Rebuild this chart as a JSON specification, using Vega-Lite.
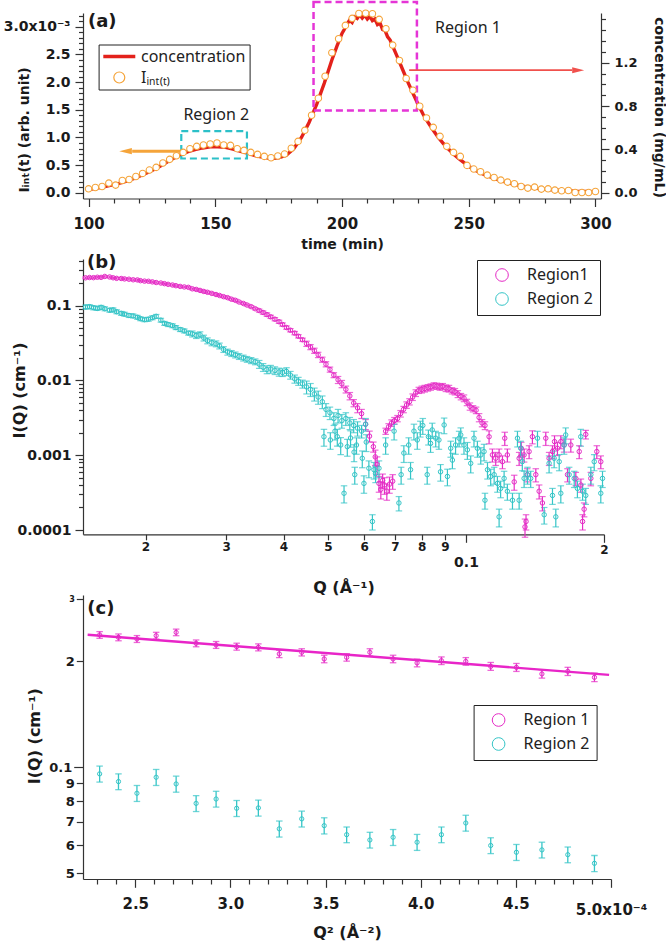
{
  "$schema": "https://vega.github.io/schema/vega-lite/v6.json",
  "background": "white",
  "padding": {"left": 3, "top": 0, "right": 2, "bottom": 2},
  "config": {
    "view": {"stroke": null},
    "font": "DejaVu Sans",
    "axis": {"grid": false, "labelFont": "DejaVu Sans", "labelFontWeight": "bold", "titleFont": "DejaVu Sans", "titleFontWeight": "bold", "labelColor": "#1a1a1a", "titleColor": "#1a1a1a", "domainColor": "#333333", "tickColor": "#333333", "domainWidth": 1.2, "tickWidth": 1.2, "labelOverlap": false, "labelFlush": false, "labelBound": false}
  },
  "resolve": {"scale": {"color": "independent"}},
  "datasets": {
    "tI": [
      {"t":100,"I":0.000072},{"t":102.67,"I":0.000096},{"t":105.33,"I":0.000114},{"t":108,"I":0.000175},{"t":110.67,"I":0.000139},{"t":113.33,"I":0.000223},{"t":116,"I":0.000241},{"t":118.67,"I":0.000295},{"t":121.33,"I":0.00035},{"t":124,"I":0.000411},{"t":126.67,"I":0.000459},{"t":129.33,"I":0.000538},{"t":132,"I":0.000604},{"t":134.67,"I":0.00067},{"t":137.33,"I":0.00073},{"t":140,"I":0.000797},{"t":142.67,"I":0.000839},{"t":145.33,"I":0.000864},{"t":148,"I":0.000882},{"t":150.67,"I":0.0009},{"t":153.33,"I":0.000864},{"t":156,"I":0.000857},{"t":158.67,"I":0.000797},{"t":161.33,"I":0.000766},{"t":164,"I":0.00073},{"t":166.67,"I":0.000694},{"t":169.33,"I":0.000658},{"t":172,"I":0.000634},{"t":174.67,"I":0.000664},{"t":177.33,"I":0.0007},{"t":180,"I":0.000806},{"t":182.67,"I":0.000929},{"t":185.33,"I":0.001129},{"t":188,"I":0.001401},{"t":190.67,"I":0.001709},{"t":193.33,"I":0.002107},{"t":196,"I":0.00253},{"t":198.67,"I":0.002784},{"t":201.33,"I":0.003025},{"t":204,"I":0.003152},{"t":206.67,"I":0.00324},{"t":209.33,"I":0.003245},{"t":212,"I":0.003235},{"t":214.67,"I":0.003134},{"t":217.33,"I":0.002965},{"t":220,"I":0.002669},{"t":222.67,"I":0.002391},{"t":225.33,"I":0.002065},{"t":228,"I":0.001853},{"t":230.67,"I":0.001563},{"t":233.33,"I":0.001353},{"t":236,"I":0.001183},{"t":238.67,"I":0.00102},{"t":241.33,"I":0.000839},{"t":244,"I":0.00073},{"t":246.67,"I":0.000658},{"t":249.33,"I":0.000495},{"t":252,"I":0.000429},{"t":254.67,"I":0.00038},{"t":257.33,"I":0.00032},{"t":260,"I":0.000277},{"t":262.67,"I":0.00023},{"t":265.33,"I":0.000193},{"t":268,"I":0.000163},{"t":270.67,"I":0.000114},{"t":273.33,"I":0.000085},{"t":276,"I":0.000103},{"t":278.67,"I":0.000067},{"t":281.33,"I":0.000072},{"t":284,"I":0.000049},{"t":286.67,"I":0.000036},{"t":289.33,"I":0.000042},{"t":292,"I":0.000005},{"t":294.67,"I":0.000005},{"t":297.33,"I":0.000005},{"t":300,"I":0.000024}
    ],
    "conc": [
      {"t":100,"c":0.031},{"t":103,"c":0.041},{"t":106,"c":0.056},{"t":109,"c":0.072},{"t":112,"c":0.087},{"t":115,"c":0.107},{"t":118,"c":0.133},{"t":121,"c":0.163},{"t":124,"c":0.194},{"t":127,"c":0.23},{"t":130,"c":0.271},{"t":133,"c":0.312},{"t":136,"c":0.347},{"t":139,"c":0.378},{"t":142,"c":0.398},{"t":145,"c":0.414},{"t":148,"c":0.424},{"t":151,"c":0.424},{"t":154,"c":0.419},{"t":157,"c":0.404},{"t":160,"c":0.383},{"t":163,"c":0.363},{"t":166,"c":0.342},{"t":169,"c":0.327},{"t":172,"c":0.317},{"t":175,"c":0.322},{"t":178,"c":0.347},{"t":181,"c":0.409},{"t":184,"c":0.511},{"t":187,"c":0.649},{"t":190,"c":0.817},{"t":193,"c":1.011},{"t":196,"c":1.226},{"t":198,"c":1.354},{"t":200,"c":1.471},{"t":201,"c":1.512},{"t":202,"c":1.558},{"t":203,"c":1.594},{"t":204,"c":1.573},{"t":205,"c":1.624},{"t":206,"c":1.609},{"t":207,"c":1.645},{"t":208,"c":1.614},{"t":209,"c":1.64},{"t":210,"c":1.604},{"t":211,"c":1.629},{"t":212,"c":1.589},{"t":213,"c":1.604},{"t":214,"c":1.553},{"t":215,"c":1.568},{"t":216,"c":1.507},{"t":217,"c":1.497},{"t":218,"c":1.44},{"t":219,"c":1.41},{"t":220,"c":1.354},{"t":222,"c":1.246},{"t":224,"c":1.134},{"t":226,"c":1.022},{"t":228,"c":0.919},{"t":230,"c":0.817},{"t":232,"c":0.725},{"t":234,"c":0.649},{"t":236,"c":0.577},{"t":238,"c":0.511},{"t":240,"c":0.455},{"t":242,"c":0.404},{"t":244,"c":0.358},{"t":246,"c":0.317},{"t":248,"c":0.281},{"t":250,"c":0.245},{"t":253,"c":0.204},{"t":256,"c":0.169},{"t":259,"c":0.143},{"t":262,"c":0.117},{"t":265,"c":0.097},{"t":268,"c":0.077},{"t":271,"c":0.061},{"t":274,"c":0.051},{"t":277,"c":0.041},{"t":280,"c":0.033},{"t":284,"c":0.026},{"t":288,"c":0.02},{"t":292,"c":0.015},{"t":296,"c":0.013},{"t":300,"c":0.01}
    ],
    "sans": [
      {"r":1,"q":0.0148,"i":0.236,"e":0.006},{"r":1,"q":0.0151,"i":0.238,"e":0.006},{"r":1,"q":0.0154,"i":0.237,"e":0.006},{"r":1,"q":0.0157,"i":0.24,"e":0.006},{"r":1,"q":0.016,"i":0.239,"e":0.006},{"r":1,"q":0.0163,"i":0.246,"e":0.006},{"r":1,"q":0.0167,"i":0.242,"e":0.006},{"r":1,"q":0.017,"i":0.236,"e":0.006},{"r":1,"q":0.0173,"i":0.232,"e":0.006},{"r":1,"q":0.0177,"i":0.231,"e":0.006},{"r":1,"q":0.018,"i":0.228,"e":0.006},{"r":1,"q":0.0184,"i":0.226,"e":0.006},{"r":1,"q":0.0188,"i":0.222,"e":0.006},{"r":1,"q":0.0192,"i":0.221,"e":0.006},{"r":1,"q":0.0195,"i":0.216,"e":0.005},{"r":1,"q":0.0199,"i":0.213,"e":0.005},{"r":1,"q":0.0203,"i":0.212,"e":0.005},{"r":1,"q":0.0207,"i":0.208,"e":0.005},{"r":1,"q":0.0211,"i":0.204,"e":0.005},{"r":1,"q":0.0216,"i":0.201,"e":0.005},{"r":1,"q":0.022,"i":0.197,"e":0.005},{"r":1,"q":0.0224,"i":0.193,"e":0.005},{"r":1,"q":0.0229,"i":0.189,"e":0.005},{"r":1,"q":0.0233,"i":0.185,"e":0.005},{"r":1,"q":0.0238,"i":0.181,"e":0.005},{"r":1,"q":0.0243,"i":0.178,"e":0.004},{"r":1,"q":0.0248,"i":0.176,"e":0.005},{"r":1,"q":0.0253,"i":0.168,"e":0.005},{"r":1,"q":0.0258,"i":0.165,"e":0.005},{"r":1,"q":0.0263,"i":0.16,"e":0.005},{"r":1,"q":0.0268,"i":0.155,"e":0.005},{"r":1,"q":0.0273,"i":0.151,"e":0.005},{"r":1,"q":0.0279,"i":0.146,"e":0.004},{"r":1,"q":0.0285,"i":0.141,"e":0.004},{"r":1,"q":0.029,"i":0.137,"e":0.004},{"r":1,"q":0.0296,"i":0.132,"e":0.004},{"r":1,"q":0.0302,"i":0.128,"e":0.004},{"r":1,"q":0.0308,"i":0.122,"e":0.004},{"r":1,"q":0.0314,"i":0.118,"e":0.004},{"r":1,"q":0.032,"i":0.112,"e":0.003},{"r":1,"q":0.0327,"i":0.107,"e":0.003},{"r":1,"q":0.0333,"i":0.102,"e":0.003},{"r":1,"q":0.034,"i":0.097,"e":0.003},{"r":1,"q":0.0347,"i":0.091,"e":0.003},{"r":1,"q":0.0354,"i":0.086,"e":0.004},{"r":1,"q":0.0361,"i":0.081,"e":0.004},{"r":1,"q":0.0368,"i":0.076,"e":0.004},{"r":1,"q":0.0375,"i":0.071,"e":0.0035},{"r":1,"q":0.0383,"i":0.066,"e":0.0033},{"r":1,"q":0.0391,"i":0.061,"e":0.003},{"r":1,"q":0.0398,"i":0.056,"e":0.0028},{"r":1,"q":0.0406,"i":0.051,"e":0.0026},{"r":1,"q":0.0414,"i":0.047,"e":0.0024},{"r":1,"q":0.0423,"i":0.043,"e":0.0022},{"r":1,"q":0.0431,"i":0.039,"e":0.002},{"r":1,"q":0.044,"i":0.035,"e":0.0018},{"r":1,"q":0.0449,"i":0.031,"e":0.0025},{"r":1,"q":0.0458,"i":0.028,"e":0.0022},{"r":1,"q":0.0467,"i":0.025,"e":0.002},{"r":1,"q":0.0476,"i":0.022,"e":0.0018},{"r":1,"q":0.0486,"i":0.019,"e":0.0015},{"r":1,"q":0.0495,"i":0.0165,"e":0.0013},{"r":1,"q":0.0505,"i":0.014,"e":0.0011},{"r":1,"q":0.0515,"i":0.0118,"e":0.0009},{"r":1,"q":0.0526,"i":0.0102,"e":0.0011},{"r":1,"q":0.0536,"i":0.009,"e":0.001},{"r":1,"q":0.0547,"i":0.0076,"e":0.0008},{"r":1,"q":0.0558,"i":0.0062,"e":0.0007},{"r":1,"q":0.0569,"i":0.005,"e":0.00055},{"r":1,"q":0.058,"i":0.0043,"e":0.0006},{"r":1,"q":0.0592,"i":0.0036,"e":0.0005},{"r":1,"q":0.0604,"i":0.0026,"e":0.0004},{"r":1,"q":0.0616,"i":0.0018,"e":0.0003},{"r":1,"q":0.0628,"i":0.0013,"e":0.0002},
      {"r":1,"q":0.0634,"i":0.00095,"e":0.00022},{"r":1,"q":0.064,"i":0.00075,"e":0.0002},{"r":1,"q":0.0646,"i":0.00042,"e":0.0001},{"r":1,"q":0.0652,"i":0.00035,"e":0.00009},{"r":1,"q":0.0658,"i":0.00046,"e":0.0001},{"r":1,"q":0.0664,"i":0.0004,"e":0.0001},{"r":1,"q":0.0672,"i":0.00033,"e":0.00008},{"r":1,"q":0.0681,"i":0.00041,"e":0.0001},{"r":1,"q":0.0692,"i":0.00045,"e":0.0001},
      {"r":1,"q":0.0668,"i":0.0021,"e":0.0002},{"r":1,"q":0.0678,"i":0.0024,"e":0.00024},{"r":1,"q":0.0688,"i":0.0027,"e":0.00027},{"r":1,"q":0.0698,"i":0.0029,"e":0.0003},{"r":1,"q":0.0709,"i":0.0031,"e":0.0003},{"r":1,"q":0.072,"i":0.0036,"e":0.00036},{"r":1,"q":0.0731,"i":0.0041,"e":0.0004},{"r":1,"q":0.0742,"i":0.0047,"e":0.00047},{"r":1,"q":0.0753,"i":0.0052,"e":0.0005},{"r":1,"q":0.0765,"i":0.006,"e":0.0006},{"r":1,"q":0.0777,"i":0.0068,"e":0.0007},{"r":1,"q":0.0789,"i":0.0074,"e":0.0007},{"r":1,"q":0.0801,"i":0.0076,"e":0.0008},{"r":1,"q":0.0813,"i":0.0078,"e":0.0008},{"r":1,"q":0.0826,"i":0.008,"e":0.0008},{"r":1,"q":0.0838,"i":0.0082,"e":0.0008},{"r":1,"q":0.0851,"i":0.0085,"e":0.0008},{"r":1,"q":0.0864,"i":0.0084,"e":0.0008},{"r":1,"q":0.0877,"i":0.0082,"e":0.0008},{"r":1,"q":0.089,"i":0.0083,"e":0.0008},{"r":1,"q":0.0904,"i":0.0079,"e":0.0008},{"r":1,"q":0.0918,"i":0.0078,"e":0.0008},{"r":1,"q":0.0932,"i":0.0073,"e":0.0007},{"r":1,"q":0.0946,"i":0.0071,"e":0.0007},{"r":1,"q":0.096,"i":0.0066,"e":0.0007},{"r":1,"q":0.0975,"i":0.0061,"e":0.0006},{"r":1,"q":0.099,"i":0.0058,"e":0.0006},{"r":1,"q":0.1005,"i":0.0051,"e":0.0005},{"r":1,"q":0.102,"i":0.0045,"e":0.0005},{"r":1,"q":0.1036,"i":0.0042,"e":0.0004},{"r":1,"q":0.1052,"i":0.004,"e":0.0004},{"r":1,"q":0.1068,"i":0.0032,"e":0.0004},{"r":1,"q":0.1084,"i":0.0027,"e":0.0003},{"r":1,"q":0.11,"i":0.0025,"e":0.0003},
      {"r":1,"q":0.1123,"i":0.00177,"e":0.00035},{"r":1,"q":0.1142,"i":0.00101,"e":0.0002},{"r":1,"q":0.1161,"i":0.00091,"e":0.00018},{"r":1,"q":0.1181,"i":0.00101,"e":0.0002},{"r":1,"q":0.1201,"i":0.00082,"e":0.00016},{"r":1,"q":0.1215,"i":0.00169,"e":0.00034},{"r":1,"q":0.1231,"i":0.00101,"e":0.0002},{"r":1,"q":0.1274,"i":0.00044,"e":0.0001},{"r":1,"q":0.1306,"i":0.00091,"e":0.00018},{"r":1,"q":0.132,"i":0.00124,"e":0.00025},{"r":1,"q":0.1339,"i":0.00101,"e":0.0002},{"r":1,"q":0.1345,"i":0.00011,"e":0.00003},{"r":1,"q":0.1352,"i":0.00013,"e":0.00003},{"r":1,"q":0.136,"i":0.00055,"e":0.00011},{"r":1,"q":0.1373,"i":0.00112,"e":0.00022},{"r":1,"q":0.1396,"i":0.00177,"e":0.00035},{"r":1,"q":0.142,"i":0.00055,"e":0.00011},{"r":1,"q":0.1444,"i":0.00033,"e":0.00007},{"r":1,"q":0.1468,"i":0.00023,"e":0.00005},{"r":1,"q":0.1493,"i":0.00169,"e":0.00034},{"r":1,"q":0.1518,"i":0.00091,"e":0.00018},{"r":1,"q":0.1544,"i":0.00112,"e":0.00022},{"r":1,"q":0.156,"i":0.00152,"e":0.0003},{"r":1,"q":0.1583,"i":0.00124,"e":0.00025},{"r":1,"q":0.161,"i":0.00152,"e":0.0003},{"r":1,"q":0.1637,"i":0.00137,"e":0.00027},{"r":1,"q":0.1665,"i":0.00055,"e":0.00011},{"r":1,"q":0.1693,"i":0.00137,"e":0.00027},{"r":1,"q":0.1736,"i":0.00049,"e":0.0001},{"r":1,"q":0.1766,"i":0.00112,"e":0.00022},{"r":1,"q":0.1781,"i":0.0004,"e":0.00008},{"r":1,"q":0.1796,"i":0.00013,"e":0.00003},{"r":1,"q":0.181,"i":0.00019,"e":0.00004},{"r":1,"q":0.1825,"i":0.0019,"e":0.00025},{"r":1,"q":0.1872,"i":0.00049,"e":0.0001},{"r":1,"q":0.1929,"i":0.00112,"e":0.00022},{"r":1,"q":0.1968,"i":0.00082,"e":0.00016},
      {"r":2,"q":0.0148,"i":0.096,"e":0.006},{"r":2,"q":0.0151,"i":0.097,"e":0.006},{"r":2,"q":0.0154,"i":0.094,"e":0.006},{"r":2,"q":0.0157,"i":0.092,"e":0.0055},{"r":2,"q":0.016,"i":0.095,"e":0.0057},{"r":2,"q":0.0163,"i":0.091,"e":0.0055},{"r":2,"q":0.0167,"i":0.087,"e":0.0052},{"r":2,"q":0.017,"i":0.088,"e":0.0053},{"r":2,"q":0.0173,"i":0.083,"e":0.005},{"r":2,"q":0.0177,"i":0.079,"e":0.0047},{"r":2,"q":0.018,"i":0.077,"e":0.0046},{"r":2,"q":0.0184,"i":0.074,"e":0.0044},{"r":2,"q":0.0188,"i":0.073,"e":0.0044},{"r":2,"q":0.0192,"i":0.07,"e":0.0042},{"r":2,"q":0.0195,"i":0.067,"e":0.004},{"r":2,"q":0.0199,"i":0.065,"e":0.0039},{"r":2,"q":0.0203,"i":0.066,"e":0.004},{"r":2,"q":0.0207,"i":0.069,"e":0.0041},{"r":2,"q":0.0211,"i":0.072,"e":0.0043},{"r":2,"q":0.0216,"i":0.064,"e":0.0038},{"r":2,"q":0.022,"i":0.058,"e":0.0035},{"r":2,"q":0.0224,"i":0.056,"e":0.0034},{"r":2,"q":0.0229,"i":0.054,"e":0.0032},{"r":2,"q":0.0233,"i":0.051,"e":0.0031},{"r":2,"q":0.0238,"i":0.048,"e":0.0029},{"r":2,"q":0.0243,"i":0.046,"e":0.0028},{"r":2,"q":0.0248,"i":0.043,"e":0.0026},{"r":2,"q":0.0253,"i":0.042,"e":0.0038},{"r":2,"q":0.0258,"i":0.04,"e":0.0036},{"r":2,"q":0.0263,"i":0.041,"e":0.0037},{"r":2,"q":0.0268,"i":0.037,"e":0.0033},{"r":2,"q":0.0273,"i":0.034,"e":0.0031},{"r":2,"q":0.0279,"i":0.032,"e":0.0029},{"r":2,"q":0.0285,"i":0.031,"e":0.0028},{"r":2,"q":0.029,"i":0.029,"e":0.0026},{"r":2,"q":0.0296,"i":0.026,"e":0.0023},{"r":2,"q":0.0302,"i":0.024,"e":0.0022},{"r":2,"q":0.0308,"i":0.023,"e":0.0021},{"r":2,"q":0.0314,"i":0.022,"e":0.002},{"r":2,"q":0.032,"i":0.021,"e":0.0019},{"r":2,"q":0.0327,"i":0.02,"e":0.0018},{"r":2,"q":0.0333,"i":0.0192,"e":0.0017},{"r":2,"q":0.034,"i":0.0185,"e":0.0017},{"r":2,"q":0.0347,"i":0.0178,"e":0.0016},{"r":2,"q":0.0354,"i":0.0165,"e":0.002},{"r":2,"q":0.0361,"i":0.015,"e":0.0018},{"r":2,"q":0.0368,"i":0.014,"e":0.0017},{"r":2,"q":0.0375,"i":0.0142,"e":0.0017},{"r":2,"q":0.0383,"i":0.0136,"e":0.0016},{"r":2,"q":0.0391,"i":0.013,"e":0.0016},{"r":2,"q":0.0398,"i":0.0128,"e":0.0015},{"r":2,"q":0.0406,"i":0.0132,"e":0.0016},{"r":2,"q":0.0414,"i":0.0118,"e":0.0014},{"r":2,"q":0.0423,"i":0.0105,"e":0.0013},{"r":2,"q":0.0431,"i":0.0098,"e":0.0012},{"r":2,"q":0.044,"i":0.009,"e":0.0011},{"r":2,"q":0.0449,"i":0.0082,"e":0.0016},{"r":2,"q":0.0458,"i":0.0076,"e":0.0015},{"r":2,"q":0.0467,"i":0.0066,"e":0.0013},{"r":2,"q":0.0476,"i":0.006,"e":0.0012},{"r":2,"q":0.0486,"i":0.0052,"e":0.001},{"r":2,"q":0.0495,"i":0.0041,"e":0.0008},{"r":2,"q":0.0505,"i":0.0037,"e":0.0007},{"r":2,"q":0.0515,"i":0.0031,"e":0.0006},{"r":2,"q":0.0526,"i":0.0034,"e":0.0007},{"r":2,"q":0.0536,"i":0.0029,"e":0.0006},{"r":2,"q":0.0547,"i":0.0031,"e":0.0006},{"r":2,"q":0.0558,"i":0.0027,"e":0.0005},{"r":2,"q":0.0569,"i":0.0025,"e":0.0005},{"r":2,"q":0.058,"i":0.0023,"e":0.0005},{"r":2,"q":0.0592,"i":0.0021,"e":0.0004},{"r":2,"q":0.0604,"i":0.0026,"e":0.0005},
      {"r":2,"q":0.049,"i":0.00177,"e":0.00045},{"r":2,"q":0.0506,"i":0.0016,"e":0.0004},{"r":2,"q":0.0518,"i":0.0021,"e":0.0005},{"r":2,"q":0.0524,"i":0.00177,"e":0.00045},{"r":2,"q":0.0533,"i":0.00137,"e":0.00035},{"r":2,"q":0.0542,"i":0.00031,"e":0.00008},{"r":2,"q":0.0551,"i":0.0013,"e":0.00033},{"r":2,"q":0.056,"i":0.0017,"e":0.00042},{"r":2,"q":0.057,"i":0.0011,"e":0.00028},{"r":2,"q":0.0572,"i":0.00055,"e":0.00014},{"r":2,"q":0.0577,"i":0.00137,"e":0.00034},{"r":2,"q":0.0594,"i":0.00091,"e":0.00023},{"r":2,"q":0.0599,"i":0.00042,"e":0.00011},{"r":2,"q":0.0606,"i":0.0015,"e":0.00038},{"r":2,"q":0.0614,"i":0.00067,"e":0.00017},{"r":2,"q":0.0625,"i":0.00013,"e":0.00003},{"r":2,"q":0.063,"i":0.00064,"e":0.00016},{"r":2,"q":0.0635,"i":0.00057,"e":0.00014},{"r":2,"q":0.0646,"i":0.00067,"e":0.00017},{"r":2,"q":0.0668,"i":0.00137,"e":0.00034},{"r":2,"q":0.0697,"i":0.0021,"e":0.0005},{"r":2,"q":0.0714,"i":0.00023,"e":0.00005},{"r":2,"q":0.0722,"i":0.00055,"e":0.00014},{"r":2,"q":0.0732,"i":0.00107,"e":0.00027},{"r":2,"q":0.075,"i":0.00137,"e":0.00034},{"r":2,"q":0.0757,"i":0.00064,"e":0.00016},{"r":2,"q":0.077,"i":0.0021,"e":0.0005},{"r":2,"q":0.0783,"i":0.0016,"e":0.0004},{"r":2,"q":0.0795,"i":0.0023,"e":0.00055},{"r":2,"q":0.0805,"i":0.0025,"e":0.0006},{"r":2,"q":0.0823,"i":0.00055,"e":0.00014},{"r":2,"q":0.0828,"i":0.00177,"e":0.0004},{"r":2,"q":0.0837,"i":0.00144,"e":0.00035},{"r":2,"q":0.0844,"i":0.00218,"e":0.0005},{"r":2,"q":0.0859,"i":0.00169,"e":0.0004},{"r":2,"q":0.0873,"i":0.0016,"e":0.0004},{"r":2,"q":0.088,"i":0.0006,"e":0.00015},{"r":2,"q":0.0896,"i":0.00254,"e":0.0006},{"r":2,"q":0.0911,"i":0.00052,"e":0.00013},{"r":2,"q":0.0926,"i":0.00124,"e":0.0003},{"r":2,"q":0.0934,"i":0.00086,"e":0.0002},{"r":2,"q":0.0949,"i":0.00137,"e":0.00034},{"r":2,"q":0.0966,"i":0.00169,"e":0.0004},{"r":2,"q":0.0974,"i":0.00187,"e":0.00045},{"r":2,"q":0.099,"i":0.00137,"e":0.00034},{"r":2,"q":0.1007,"i":0.00118,"e":0.0003},{"r":2,"q":0.1024,"i":0.00078,"e":0.0002},{"r":2,"q":0.1041,"i":0.00169,"e":0.0004},{"r":2,"q":0.1059,"i":0.00124,"e":0.0003},{"r":2,"q":0.1077,"i":0.00101,"e":0.00025},{"r":2,"q":0.1095,"i":0.00112,"e":0.00028},{"r":2,"q":0.11,"i":0.00025,"e":0.00006},{"r":2,"q":0.1114,"i":0.00064,"e":0.00016},{"r":2,"q":0.1132,"i":0.00052,"e":0.00013},{"r":2,"q":0.1152,"i":0.00055,"e":0.00014},{"r":2,"q":0.1171,"i":0.00042,"e":0.0001},{"r":2,"q":0.1181,"i":0.00015,"e":0.00004},{"r":2,"q":0.119,"i":0.00036,"e":0.00009},{"r":2,"q":0.1211,"i":0.00049,"e":0.00012},{"r":2,"q":0.1231,"i":0.00033,"e":0.00008},{"r":2,"q":0.1263,"i":0.00025,"e":0.00006},{"r":2,"q":0.1295,"i":0.00169,"e":0.0004},{"r":2,"q":0.1306,"i":0.00025,"e":0.00006},{"r":2,"q":0.1316,"i":0.00124,"e":0.0003},{"r":2,"q":0.1327,"i":0.00082,"e":0.0002},{"r":2,"q":0.1339,"i":0.00049,"e":0.00012},{"r":2,"q":0.1362,"i":0.00055,"e":0.00014},{"r":2,"q":0.1384,"i":0.00049,"e":0.00012},{"r":2,"q":0.1432,"i":0.00169,"e":0.0004},{"r":2,"q":0.1481,"i":0.00016,"e":0.00004},{"r":2,"q":0.1518,"i":0.00078,"e":0.0002},{"r":2,"q":0.1544,"i":0.00029,"e":0.00007},{"r":2,"q":0.1557,"i":0.00091,"e":0.00023},{"r":2,"q":0.157,"i":0.00015,"e":0.00004},{"r":2,"q":0.1597,"i":0.00082,"e":0.0002},{"r":2,"q":0.161,"i":0.00031,"e":0.00008},{"r":2,"q":0.1637,"i":0.00137,"e":0.00034},{"r":2,"q":0.165,"i":0.00187,"e":0.00045},{"r":2,"q":0.1679,"i":0.00055,"e":0.00014},{"r":2,"q":0.1722,"i":0.00049,"e":0.00012},{"r":2,"q":0.175,"i":0.00036,"e":0.00009},{"r":2,"q":0.178,"i":0.00177,"e":0.00045},{"r":2,"q":0.1796,"i":0.00033,"e":0.00008},{"r":2,"q":0.1825,"i":0.00029,"e":0.00007},{"r":2,"q":0.1872,"i":0.00055,"e":0.00014},{"r":2,"q":0.1904,"i":0.00082,"e":0.0002},{"r":2,"q":0.1968,"i":0.00031,"e":0.00008},{"r":2,"q":0.1985,"i":0.00049,"e":0.00012}
    ],
    "guin": [
      {"r":1,"q2":0.0002313,"i":0.2375,"e":0.0052},{"r":1,"q2":0.0002412,"i":0.2338,"e":0.0052},{"r":1,"q2":0.0002509,"i":0.2313,"e":0.0052},{"r":1,"q2":0.000261,"i":0.2364,"e":0.0052},{"r":1,"q2":0.0002715,"i":0.2415,"e":0.0052},{"r":1,"q2":0.000282,"i":0.2248,"e":0.005},{"r":1,"q2":0.0002925,"i":0.2225,"e":0.005},{"r":1,"q2":0.0003033,"i":0.22,"e":0.005},{"r":1,"q2":0.0003147,"i":0.219,"e":0.005},{"r":1,"q2":0.0003257,"i":0.2098,"e":0.005},{"r":1,"q2":0.0003375,"i":0.212,"e":0.005},{"r":1,"q2":0.0003493,"i":0.203,"e":0.005},{"r":1,"q2":0.0003611,"i":0.2051,"e":0.005},{"r":1,"q2":0.0003733,"i":0.212,"e":0.005},{"r":1,"q2":0.0003855,"i":0.203,"e":0.005},{"r":1,"q2":0.0003981,"i":0.1978,"e":0.005},{"r":1,"q2":0.0004109,"i":0.2007,"e":0.005},{"r":1,"q2":0.0004237,"i":0.1998,"e":0.005},{"r":1,"q2":0.0004368,"i":0.1934,"e":0.005},{"r":1,"q2":0.0004503,"i":0.1921,"e":0.005},{"r":1,"q2":0.0004637,"i":0.1841,"e":0.005},{"r":1,"q2":0.0004773,"i":0.1872,"e":0.005},{"r":1,"q2":0.0004913,"i":0.18,"e":0.005},
      {"r":2,"q2":0.0002313,"i":0.0958,"e":0.005},{"r":2,"q2":0.0002412,"i":0.0911,"e":0.0047},{"r":2,"q2":0.0002509,"i":0.0844,"e":0.0044},{"r":2,"q2":0.000261,"i":0.0937,"e":0.0049},{"r":2,"q2":0.0002715,"i":0.0897,"e":0.0047},{"r":2,"q2":0.000282,"i":0.079,"e":0.0041},{"r":2,"q2":0.0002925,"i":0.0813,"e":0.0042},{"r":2,"q2":0.0003033,"i":0.0765,"e":0.004},{"r":2,"q2":0.0003147,"i":0.0767,"e":0.004},{"r":2,"q2":0.0003257,"i":0.0669,"e":0.0035},{"r":2,"q2":0.0003375,"i":0.0714,"e":0.0037},{"r":2,"q2":0.0003493,"i":0.0683,"e":0.0036},{"r":2,"q2":0.0003611,"i":0.0644,"e":0.0033},{"r":2,"q2":0.0003733,"i":0.0622,"e":0.0032},{"r":2,"q2":0.0003855,"i":0.0633,"e":0.0033},{"r":2,"q2":0.0003981,"i":0.0613,"e":0.0032},{"r":2,"q2":0.0004109,"i":0.0644,"e":0.0033},{"r":2,"q2":0.0004237,"i":0.0695,"e":0.0036},{"r":2,"q2":0.0004368,"i":0.06,"e":0.0031},{"r":2,"q2":0.0004503,"i":0.0574,"e":0.003},{"r":2,"q2":0.0004637,"i":0.0583,"e":0.003},{"r":2,"q2":0.0004773,"i":0.0565,"e":0.0029},{"r":2,"q2":0.0004913,"i":0.0534,"e":0.0028}
    ],
    "fit": [{"q2":0.000225,"i":0.2378},{"q2":0.000499,"i":0.1829}]
  },
  "vconcat": [
    {
      "width": 518,
      "height": 185.5,
      "resolve": {"scale": {"y": "independent"}},
      "layer": [
        {
          "data": {"name": "conc"},
          "mark": {"type": "line", "strokeWidth": 3.4},
          "encoding": {
            "x": {"field": "t", "type": "quantitative", "title": "time (min)", "scale": {"domain": [97.8, 302.2], "nice": false, "zero": false},
              "axis": {"title": "time (min)", "labelOverlap": false, "tickCount": 100, "values": [100,110,120,130,140,150,160,170,180,190,200,210,220,230,240,250,260,270,280,290,300], "labelExpr": "datum.value % 50 === 0 ? format(datum.value, 'd') : ''", "tickSize": {"condition": {"test": "datum.value % 50 === 0", "value": 8}, "value": 4.5}, "labelFontSize": 15, "labelPadding": 10, "titleFontSize": 14, "titleY": 46, "titleBaseline": "middle"}},
            "y": {"field": "c", "type": "quantitative", "title": "concentration (mg/mL)", "scale": {"domain": [-0.0526, 1.66], "nice": false, "zero": false},
              "axis": {"orient": "right", "title": "concentration (mg/mL)", "labelOverlap": false, "tickCount": 100, "values": [0,0.1,0.2,0.3,0.4,0.5,0.6,0.7,0.8,0.9,1,1.1,1.2,1.3,1.4,1.5,1.6], "labelExpr": "(abs(datum.value*2.5 - round(datum.value*2.5)) < 0.000001 && datum.value < 1.5) ? format(datum.value, '.1f') : ''", "tickSize": {"condition": {"test": "abs(datum.value*2.5 - round(datum.value*2.5)) < 0.000001 && datum.value < 1.5", "value": 8}, "value": 4.5}, "labelFontSize": 13, "labelPadding": 5, "titleFontSize": 14, "titleX": 57, "titleY": 94, "titleAngle": 90, "titleAlign": "center", "titleBaseline": "middle"}},
            "color": {"datum": "concentration", "type": "nominal", "scale": {"domain": ["concentration", "I"], "range": ["#e3211b", "#f5a43a"]},
              "legend": {"title": null, "orient": "none", "legendX": 15.6, "legendY": 31.5, "strokeColor": "#222222", "fillColor": "white", "padding": 4, "symbolSize": 324, "symbolOffset": 8.7, "labelOffset": 13.7, "labelFont": "Noto Sans", "labelFontSize": 16, "labelFontWeight": "normal", "labelColor": "#222222", "rowPadding": 5, "labelExpr": "datum.label === 'I' ? 'Iᵢₙₜ₍ₜ₎' : datum.label",
                "encode": {"symbols": {"update": {
                  "shape": {"signal": "datum.value === 'concentration' ? 'stroke' : 'circle'"},
                  "size": {"signal": "datum.value === 'concentration' ? 1024 : 120"},
                  "strokeWidth": {"signal": "datum.value === 'concentration' ? 3.5 : 1.2"},
                  "stroke": {"signal": "datum.value === 'concentration' ? '#e3211b' : '#f5a43a'"},
                  "fillOpacity": {"value": 0}}}}}}
          }
        },
        {
          "layer": [
            {"data": {"values": [{}]}, "mark": {"type": "rect", "filled": false, "color": "#2cc0c8", "strokeWidth": 2.2, "strokeDash": [7, 4]},
              "encoding": {"x": {"datum": 136.58}, "x2": {"datum": 162.49}, "y": {"datum": 0.00062}, "y2": {"datum": 0.001113}}},
            {"data": {"values": [{}]}, "mark": {"type": "rect", "filled": false, "color": "#e535d6", "strokeWidth": 2.5, "strokeDash": [7, 4]},
              "encoding": {"x": {"datum": 188.77}, "x2": {"datum": 229.56}, "y": {"datum": 0.001487}, "y2": {"datum": 0.00345}}},
            {"data": {"values": [{}]}, "mark": {"type": "rule", "color": "#f5a43a", "strokeWidth": 3},
              "encoding": {"x": {"datum": 117.2}, "x2": {"datum": 136.58}, "y": {"datum": 0.000752}}},
            {"data": {"values": [{}]}, "mark": {"type": "point", "shape": "M 1 -0.5 L -1 0 L 1 0.5 Z", "filled": true, "color": "#f5a43a", "size": 160, "strokeWidth": 0, "opacity": 1},
              "encoding": {"x": {"datum": 114.6}, "y": {"datum": 0.000752}}},
            {"data": {"values": [{}]}, "mark": {"type": "rule", "color": "#f0504c", "strokeWidth": 1.8},
              "encoding": {"x": {"datum": 226.5}, "x2": {"datum": 290.8}, "y": {"datum": 0.002216}}},
            {"data": {"values": [{}]}, "mark": {"type": "point", "shape": "M -1 -0.5 L 1 0 L -1 0.5 Z", "filled": true, "color": "#f0504c", "size": 144, "strokeWidth": 0, "opacity": 1},
              "encoding": {"x": {"datum": 293.2}, "y": {"datum": 0.002216}}},
            {"data": {"values": [{}]}, "mark": {"type": "text", "font": "Noto Sans", "fontSize": 16, "align": "center", "baseline": "middle", "color": "#222222"},
              "encoding": {"x": {"datum": 150.4}, "y": {"datum": 0.001413}, "text": {"value": "Region 2"}}},
            {"data": {"values": [{}]}, "mark": {"type": "text", "font": "Noto Sans", "fontSize": 16, "align": "center", "baseline": "middle", "color": "#222222"},
              "encoding": {"x": {"datum": 249.7}, "y": {"datum": 0.002982}, "text": {"value": "Region 1"}}},
            {"data": {"values": [{}]}, "mark": {"type": "text", "font": "DejaVu Sans", "fontWeight": "bold", "fontSize": 18, "align": "left", "baseline": "middle", "color": "#1a1a1a"},
              "encoding": {"x": {"datum": 99.77}, "y": {"datum": 0.003078}, "text": {"value": "(a)"}}},
            {"data": {"name": "tI"}, "mark": {"type": "point", "shape": "circle", "filled": false, "fill": "white", "size": 42, "strokeWidth": 1.1, "opacity": 1},
              "encoding": {
                "x": {"field": "t", "type": "quantitative", "title": "time (min)"},
                "y": {"field": "I", "type": "quantitative", "title": "Iᵢₙₜ(t) (arb. unit)", "scale": {"domain": [-0.000103, 0.003249], "nice": false, "zero": false},
                  "axis": {"orient": "left", "title": "Iᵢₙₜ(t) (arb. unit)", "labelOverlap": false, "tickCount": 100, "values": [0,0.0001,0.0002,0.0003,0.0004,0.0005,0.0006,0.0007,0.0008,0.0009,0.001,0.0011,0.0012,0.0013,0.0014,0.0015,0.0016,0.0017,0.0018,0.0019,0.002,0.0021,0.0022,0.0023,0.0024,0.0025,0.0026,0.0027,0.0028,0.0029,0.003,0.0031,0.0032], "labelExpr": "abs(datum.value*2000 - round(datum.value*2000)) < 0.000001 ? (datum.value > 0.0029 ? '3.0x10⁻³' : format(datum.value*1000, '.1f')) : ''", "tickSize": {"condition": {"test": "abs(datum.value*2000 - round(datum.value*2000)) < 0.000001", "value": 8}, "value": 4.5}, "labelFontSize": 14, "labelPadding": 5, "titleFontSize": 14, "titleX": -58.7, "titleY": 116.5, "titleAngle": 270, "titleAlign": "center", "titleBaseline": "middle"}},
                "color": {"datum": "I", "type": "nominal"}
              }}
          ]
        }
      ]
    },
    {
      "width": 521,
      "height": 275.3,
      "layer": [
        {
          "data": {"name": "sans"},
          "mark": {"type": "errorbar", "ticks": {"size": 6.5}, "thickness": 1.2},
          "encoding": {
            "x": {"field": "q", "type": "quantitative", "title": "Q (Å⁻¹)", "scale": {"type": "log", "domain": [0.01461, 0.2], "nice": false},
              "axis": {"title": "Q (Å⁻¹)", "labelOverlap": false, "tickCount": 100, "values": [0.02,0.03,0.04,0.05,0.06,0.07,0.08,0.09,0.1,0.2], "labelExpr": "datum.value == 0.1 ? '0.1' : (datum.value == 0.2 ? '2' : format(datum.value*100, '.0f'))", "tickSize": {"condition": {"test": "datum.value == 0.1 || datum.value == 0.2", "value": 8}, "value": 5.5}, "labelFontSize": {"condition": {"test": "datum.value == 0.1", "value": 14}, "value": 12}, "labelPadding": {"condition": {"test": "datum.value == 0.1", "value": 13}, "value": 2}, "titleFontSize": 16, "titleY": 52.7, "titleBaseline": "middle"}},
            "y": {"field": "i", "type": "quantitative", "title": "I(Q) (cm⁻¹)", "scale": {"type": "log", "domain": [0.0000876, 0.421], "nice": false},
              "axis": {"title": "I(Q) (cm⁻¹)", "labelOverlap": false, "tickCount": 100, "values": [0.0001,0.0002,0.0003,0.0004,0.0005,0.0006,0.0007,0.0008,0.0009,0.001,0.002,0.003,0.004,0.005,0.006,0.007,0.008,0.009,0.01,0.02,0.03,0.04,0.05,0.06,0.07,0.08,0.09,0.1,0.2,0.3,0.4], "labelExpr": "datum.value == 0.1 ? '0.1' : (datum.value == 0.01 ? '0.01' : (datum.value == 0.001 ? '0.001' : (datum.value == 0.0001 ? '0.0001' : '')))", "tickSize": {"condition": {"test": "datum.value == 0.1 || datum.value == 0.01 || datum.value == 0.001 || datum.value == 0.0001", "value": 8}, "value": 4.5}, "labelFontSize": 14, "labelPadding": 4, "titleFontSize": 16, "titleX": -64, "titleY": 131, "titleAngle": 270, "titleAlign": "center", "titleBaseline": "middle"}},
            "yError": {"field": "e"},
            "color": {"field": "r", "type": "nominal", "scale": {"domain": [1, 2], "range": ["#e52cc6", "#35c5c7"]},
              "legend": {"title": null, "orient": "none", "legendX": 394, "legendY": 1, "symbolType": "circle", "symbolSize": 160, "symbolStrokeWidth": 1, "symbolFillColor": "white", "strokeColor": "#222222", "fillColor": "white", "padding": 7, "symbolOffset": 10, "labelOffset": 17, "labelFont": "Noto Sans", "labelFontSize": 16, "labelFontWeight": "normal", "labelColor": "#222222", "rowPadding": 6, "labelExpr": "datum.label == '1' ? 'Region1' : 'Region 2'",
                "encode": {"symbols": {"update": {"shape": {"value": "circle"}, "size": {"value": 160}, "fillOpacity": {"value": 0}, "strokeWidth": {"value": 1}, "stroke": {"signal": "datum.value == 1 ? '#e52cc6' : '#35c5c7'"}}}}}}
          }
        },
        {
          "data": {"name": "sans"},
          "mark": {"type": "point", "shape": "circle", "filled": false, "size": 20, "strokeWidth": 1, "opacity": 1},
          "encoding": {
            "x": {"field": "q", "type": "quantitative", "title": "Q (Å⁻¹)", "scale": {"type": "log", "domain": [0.01461, 0.2], "nice": false}},
            "y": {"field": "i", "type": "quantitative", "title": "I(Q) (cm⁻¹)", "scale": {"type": "log", "domain": [0.0000876, 0.421], "nice": false}},
            "color": {"field": "r", "type": "nominal", "scale": {"domain": [1, 2], "range": ["#e52cc6", "#35c5c7"]},
              "legend": {"title": null, "orient": "none", "legendX": 394, "legendY": 1, "symbolType": "circle", "symbolSize": 160, "symbolStrokeWidth": 1, "symbolFillColor": "white", "strokeColor": "#222222", "fillColor": "white", "padding": 7, "symbolOffset": 10, "labelOffset": 17, "labelFont": "Noto Sans", "labelFontSize": 16, "labelFontWeight": "normal", "labelColor": "#222222", "rowPadding": 6, "labelExpr": "datum.label == '1' ? 'Region1' : 'Region 2'",
                "encode": {"symbols": {"update": {"shape": {"value": "circle"}, "size": {"value": 160}, "fillOpacity": {"value": 0}, "strokeWidth": {"value": 1}, "stroke": {"signal": "datum.value == 1 ? '#e52cc6' : '#35c5c7'"}}}}}}
          }
        },
        {
          "data": {"values": [{}]},
          "mark": {"type": "text", "font": "DejaVu Sans", "fontWeight": "bold", "fontSize": 18, "align": "left", "baseline": "middle", "color": "#1a1a1a"},
          "encoding": {"x": {"datum": 0.01491}, "y": {"datum": 0.372}, "text": {"value": "(b)"}}
        }
      ]
    },
    {
      "width": 528,
      "height": 284,
      "layer": [
        {
          "data": {"name": "fit"},
          "mark": {"type": "line", "color": "#e825c8", "strokeWidth": 2.4},
          "encoding": {
            "x": {"field": "q2", "type": "quantitative", "title": "Q² (Å⁻²)", "scale": {"domain": [0.00022256, 0.0005], "nice": false, "zero": false},
              "axis": {"title": "Q² (Å⁻²)", "labelOverlap": false, "tickCount": 100, "values": [0.00023,0.00024,0.00025,0.00026,0.00027,0.00028,0.00029,0.0003,0.00031,0.00032,0.00033,0.00034,0.00035,0.00036,0.00037,0.00038,0.00039,0.0004,0.00041,0.00042,0.00043,0.00044,0.00045,0.00046,0.00047,0.00048,0.00049,0.0005], "labelExpr": "abs(datum.value*20000 - round(datum.value*20000)) < 0.000001 ? (datum.value > 0.000499 ? '5.0x10⁻⁴' : format(datum.value*10000, '.1f')) : ''", "tickSize": {"condition": {"test": "abs(datum.value*20000 - round(datum.value*20000)) < 0.000001", "value": 8.3}, "value": 5}, "labelFontSize": 15, "labelPadding": {"condition": {"test": "datum.value > 0.000499", "value": 15}, "value": 9}, "titleFontSize": 16, "titleY": 53.4, "titleBaseline": "middle"}},
            "y": {"field": "i", "type": "quantitative", "title": "I(Q) (cm⁻¹)", "scale": {"type": "log", "domain": [0.0482, 0.3083], "nice": false},
              "axis": {"title": "I(Q) (cm⁻¹)", "labelOverlap": false, "tickCount": 100, "values": [0.05,0.06,0.07,0.08,0.09,0.1,0.2,0.3], "labelExpr": "datum.value < 0.095 ? format(datum.value*100, '.0f') : (datum.value < 0.15 ? '0.1' : format(datum.value*10, '.0f'))", "tickSize": {"condition": {"test": "datum.value == 0.1", "value": 9.3}, "value": 6.7}, "labelFontSize": {"condition": {"test": "datum.value == 0.3", "value": 8}, "value": 13}, "labelPadding": 2, "titleFontSize": 16, "titleX": -48.7, "titleY": 140.7, "titleAngle": 270, "titleAlign": "center", "titleBaseline": "middle"}}
          }
        },
        {
          "data": {"name": "guin"},
          "mark": {"type": "errorbar", "ticks": {"size": 6.5}, "thickness": 1.3},
          "encoding": {
            "x": {"field": "q2", "type": "quantitative", "title": "Q² (Å⁻²)", "scale": {"domain": [0.00022256, 0.0005], "nice": false, "zero": false}},
            "y": {"field": "i", "type": "quantitative", "title": "I(Q) (cm⁻¹)", "scale": {"type": "log", "domain": [0.0482, 0.3083], "nice": false}},
            "yError": {"field": "e"},
            "color": {"field": "r", "type": "nominal", "scale": {"domain": [1, 2], "range": ["#e52cc6", "#35c5c7"]},
              "legend": {"title": null, "orient": "none", "legendX": 390.6, "legendY": 110, "symbolType": "circle", "symbolSize": 160, "symbolStrokeWidth": 1, "symbolFillColor": "white", "strokeColor": "#222222", "fillColor": "white", "padding": 7, "symbolOffset": 10, "labelOffset": 17, "labelFont": "Noto Sans", "labelFontSize": 16, "labelFontWeight": "normal", "labelColor": "#222222", "rowPadding": 6, "labelExpr": "'Region ' + datum.label",
                "encode": {"symbols": {"update": {"shape": {"value": "circle"}, "size": {"value": 160}, "fillOpacity": {"value": 0}, "strokeWidth": {"value": 1}, "stroke": {"signal": "datum.value == 1 ? '#e52cc6' : '#35c5c7'"}}}}}}
          }
        },
        {
          "data": {"name": "guin"},
          "mark": {"type": "point", "shape": "circle", "filled": false, "size": 18, "strokeWidth": 1, "opacity": 1},
          "encoding": {
            "x": {"field": "q2", "type": "quantitative", "title": "Q² (Å⁻²)", "scale": {"domain": [0.00022256, 0.0005], "nice": false, "zero": false}},
            "y": {"field": "i", "type": "quantitative", "title": "I(Q) (cm⁻¹)", "scale": {"type": "log", "domain": [0.0482, 0.3083], "nice": false}},
            "color": {"field": "r", "type": "nominal", "scale": {"domain": [1, 2], "range": ["#e52cc6", "#35c5c7"]},
              "legend": {"title": null, "orient": "none", "legendX": 390.6, "legendY": 110, "symbolType": "circle", "symbolSize": 160, "symbolStrokeWidth": 1, "symbolFillColor": "white", "strokeColor": "#222222", "fillColor": "white", "padding": 7, "symbolOffset": 10, "labelOffset": 17, "labelFont": "Noto Sans", "labelFontSize": 16, "labelFontWeight": "normal", "labelColor": "#222222", "rowPadding": 6, "labelExpr": "'Region ' + datum.label",
                "encode": {"symbols": {"update": {"shape": {"value": "circle"}, "size": {"value": 160}, "fillOpacity": {"value": 0}, "strokeWidth": {"value": 1}, "stroke": {"signal": "datum.value == 1 ? '#e52cc6' : '#35c5c7'"}}}}}}
          }
        },
        {
          "data": {"values": [{}]},
          "mark": {"type": "text", "font": "DejaVu Sans", "fontWeight": "bold", "fontSize": 18, "align": "left", "baseline": "middle", "color": "#1a1a1a"},
          "encoding": {"x": {"datum": 0.0002248}, "y": {"datum": 0.282}, "text": {"value": "(c)"}}
        }
      ]
    }
  ],
  "spacing": 60,
  "bounds": "flush"
}
